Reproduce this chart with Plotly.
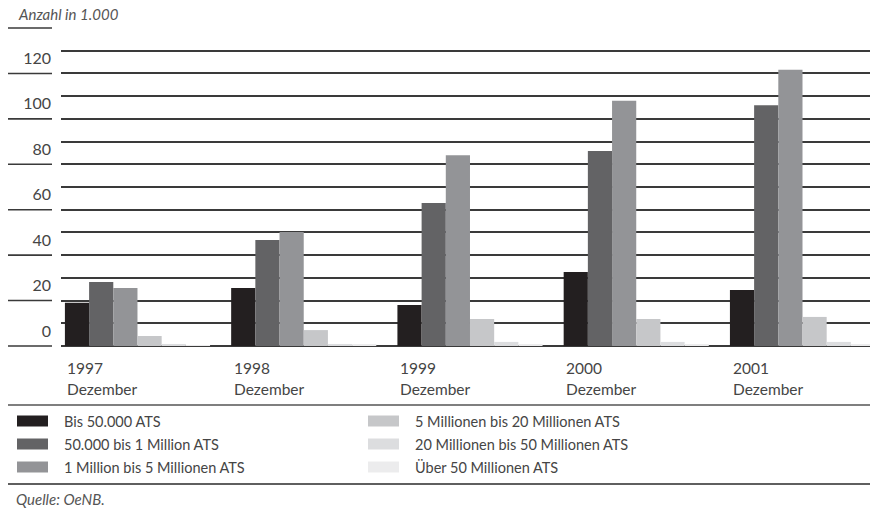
import plotly.graph_objects as go

# ---- data ----
years = ["1997", "1998", "1999", "2000", "2001"]
month_label = "Dezember"
series_names = [
    "Bis 50.000 ATS",
    "50.000 bis 1 Million ATS",
    "1 Million bis 5 Millionen ATS",
    "5 Millionen bis 20 Millionen ATS",
    "20 Millionen bis 50 Millionen ATS",
    "Über 50 Millionen ATS",
]
bis_50k = [19.0, 25.5, 18.0, 32.6, 24.7]
k50_bis_1m = [28.2, 46.7, 63.0, 85.9, 106.0]
m1_bis_5m = [25.5, 50.2, 84.0, 108.0, 121.6]
m5_bis_20m = [4.4, 7.0, 11.9, 11.9, 12.8]
m20_bis_50m = [0.9, 0.9, 1.8, 1.8, 1.8]
ueber_50m = [0.2, 0.6, 0.9, 0.9, 0.9]
series_values = [bis_50k, k50_bis_1m, m1_bis_5m, m5_bis_20m, m20_bis_50m, ueber_50m]
colors = ["#231f20", "#636365", "#939497", "#c6c7c9", "#dcdddf", "#ececed"]

y_ticks = [0, 20, 40, 60, 80, 100, 120]
y_stubs = [0, 20, 40, 60, 80, 100, 120, 140]
y_max = 140
title_text = "Anzahl in 1.000"
source_text = "Quelle: OeNB."

# ---- layout geometry (pixels) ----
W, H = 870, 508
L, R, T, B = 61, 0, 28, 162
PW, PH = W - L - R, H - T - B
FONT = "Lato"
TXT = "#454545"
LINE = "#3a3a3a"


def px(xp):
    return (xp - L) / PW


def py(yp):
    return (H - B - yp) / PH


fig = go.Figure()
for name, vals, col in zip(series_names, series_values, colors):
    fig.add_trace(go.Bar(x=years, y=vals, name=name, marker=dict(color=col, line=dict(width=0)),
                         showlegend=False))

shapes = []
annotations = []

# left stubs under y labels
for v in y_stubs:
    shapes.append(dict(type="line", xref="paper", yref="paper", x0=px(8), x1=px(52),
                       y0=v / y_max, y1=v / y_max, line=dict(color=LINE, width=1.6)))

# separators
shapes.append(dict(type="line", xref="paper", yref="paper", x0=px(8), x1=px(870), y0=py(405), y1=py(405),
                   line=dict(color="#555555", width=1.6)))
shapes.append(dict(type="line", xref="paper", yref="paper", x0=px(8), x1=px(870), y0=py(484), y1=py(484),
                   line=dict(color="#2a2a2a", width=1.6)))

# x labels (left aligned at group start)
for i, yr in enumerate(years):
    for txt, yc in ((yr, 368), (month_label, 389)):
        annotations.append(dict(x=i, xref="x", y=py(yc), yref="paper", xanchor="left", yanchor="middle",
                                xshift=-72, text=txt, showarrow=False, align="left",
                                font=dict(family=FONT, size=15.5, color=TXT)))

# manual legend, two columns
rows_y = [421, 444, 467]
cols_x = [(17, 48, 62), (368, 399, 413)]
for i, (name, col) in enumerate(zip(series_names, colors)):
    c = i // 3
    r = i % 3
    sx0, sx1, tx = cols_x[c]
    yc = rows_y[r]
    shapes.append(dict(type="rect", xref="paper", yref="paper", x0=px(sx0), x1=px(sx1),
                       y0=py(yc + 5.5), y1=py(yc - 5.5), fillcolor=col, line=dict(width=0)))
    annotations.append(dict(x=px(tx), y=py(yc), xref="paper", yref="paper", xanchor="left",
                            yanchor="middle", text=name, showarrow=False,
                            font=dict(family=FONT, size=14.5, color=TXT)))

# title and source
annotations.append(dict(x=px(16), y=py(14), xref="paper", yref="paper", xanchor="left", yanchor="middle",
                        text="<i>" + title_text + "</i>", showarrow=False,
                        font=dict(family=FONT, size=15, color="#555555")))
annotations.append(dict(x=px(14), y=py(499), xref="paper", yref="paper", xanchor="left", yanchor="middle",
                        text="<i>" + source_text + "</i>", showarrow=False,
                        font=dict(family=FONT, size=15, color="#555555")))

fig.update_layout(
    width=W, height=H,
    margin=dict(l=L, r=R, t=T, b=B, pad=0),
    paper_bgcolor="white", plot_bgcolor="white",
    barmode="group", bargap=0.127, bargroupgap=0,
    shapes=shapes, annotations=annotations,
    showlegend=False,
    font=dict(family=FONT, color=TXT),
)
fig.update_xaxes(type="category", range=[-0.46, 4.406], showticklabels=False, showgrid=False,
                 zeroline=False, showline=False, ticks="")
fig.update_yaxes(range=[0, y_max], tickvals=y_ticks, ticktext=[str(v) for v in y_ticks],
                 showgrid=True, gridcolor=LINE, gridwidth=1.6,
                 minor=dict(dtick=10, tick0=0, showgrid=True, gridcolor=LINE, gridwidth=1.6, ticks=""),
                 zeroline=True, zerolinecolor=LINE, zerolinewidth=1.6,
                 showline=False, ticks="", ticklabelshift=-15, ticklabelstandoff=9,
                 tickfont=dict(family=FONT, size=16, color=TXT))

fig.write_html("out.html")
